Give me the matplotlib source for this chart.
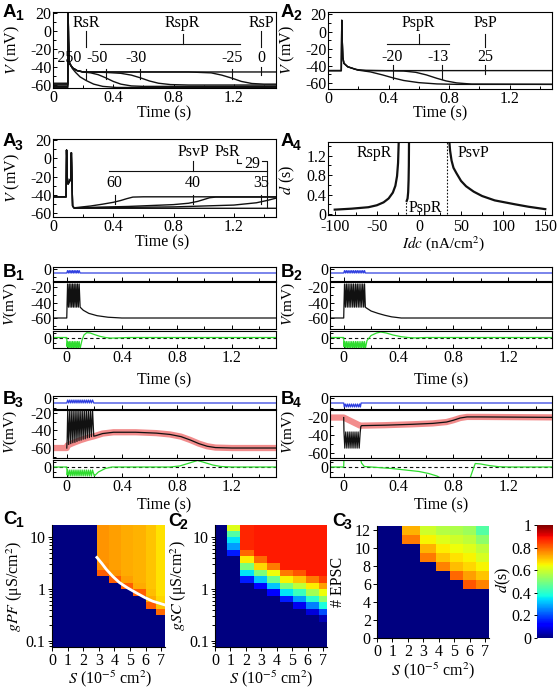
import numpy as np
import matplotlib
matplotlib.use('Agg')
import matplotlib.pyplot as plt
from matplotlib.ticker import MultipleLocator, FixedLocator, FuncFormatter, LogLocator, NullFormatter
from matplotlib.cm import ScalarMappable
from matplotlib.colors import Normalize

plt.rcParams['font.family'] = ['Liberation Serif', 'DejaVu Serif']
plt.rcParams['mathtext.fontset'] = 'stix'
plt.rcParams['axes.unicode_minus'] = False
plt.rcParams['axes.linewidth'] = 0.8

W, H = 559, 691
BLACK = '#111111'
BLUE = '#3040E0'
GREEN = '#2EDC2E'
PINK = '#F28C8C'
FS = 11.5

# ---------------- data (t in s, V in mV) ----------------
# A1: Idc = -250, -50, -30, -25, 0
a1_m250 = [(0, -63), (0.098, -63), (0.1, 30), (0.103, -10), (0.106, -30), (0.11, -36), (0.13, -42),
           (0.15, -46), (0.18, -51), (0.22, -55), (0.27, -59), (0.33, -61.5), (0.42, -62.7), (1.48, -63)]
a1_m50 = [(0, -61.5), (0.098, -61.5), (0.1, 30), (0.103, -10), (0.106, -30), (0.11, -36), (0.13, -41),
          (0.16, -44), (0.2, -45.5), (0.25, -46.5), (0.3, -48.5), (0.35, -52), (0.4, -56), (0.45, -59),
          (0.52, -61), (0.6, -61.5), (1.48, -61.5)]
a1_m30 = [(0, -60), (0.098, -60), (0.1, 30), (0.103, -10), (0.106, -30), (0.11, -36), (0.13, -41),
          (0.16, -44), (0.2, -45.5), (0.35, -46), (0.45, -47), (0.52, -49), (0.58, -52), (0.64, -55.5),
          (0.7, -58), (0.78, -59.5), (0.9, -60), (1.48, -60)]
a1_m25 = [(0, -59), (0.098, -59), (0.1, 30), (0.103, -10), (0.106, -30), (0.11, -36), (0.13, -41),
          (0.16, -44), (0.2, -45.5), (0.9, -45.5), (1.05, -46.5), (1.12, -49), (1.19, -52.5),
          (1.25, -56), (1.32, -58.3), (1.4, -59), (1.48, -59)]
a1_p0 = [(0, -58), (0.098, -58), (0.1, 30), (0.103, -10), (0.106, -30), (0.11, -36), (0.13, -41),
         (0.16, -44), (0.2, -45.5), (1.48, -45.5)]
a1_mark_t = [0.22, 0.35, 0.58, 1.19, 1.38]

# A2: Idc = -20, -13, 25
a2_m20 = [(0, -45.5), (0.088, -45.5), (0.091, 13), (0.094, -10), (0.098, -30), (0.105, -37), (0.13, -41),
          (0.2, -45), (0.28, -47), (0.36, -50.5), (0.43, -54), (0.5, -57), (0.6, -59.5), (0.72, -61),
          (0.85, -61.5), (1.48, -61.5)]
a2_m13 = [(0, -45.5), (0.088, -45.5), (0.091, 13), (0.094, -10), (0.098, -30), (0.105, -37), (0.13, -41),
          (0.2, -45), (0.35, -45.5), (0.5, -46), (0.58, -47.5), (0.65, -50.5), (0.72, -54.5),
          (0.78, -57.5), (0.85, -59.8), (0.95, -61.2), (1.48, -61.5)]
a2_p25 = [(0, -45.5), (0.088, -45.5), (0.091, 13), (0.094, -10), (0.098, -30), (0.105, -37), (0.13, -41),
          (0.18, -44), (0.25, -45.5), (1.48, -45.5)]
a2_mark_t = [0.43, 0.75, 1.04]

# A3: Idc = 60, 40, 35, 29
a3_spk = [(0, -42), (0.087, -42), (0.09, 9), (0.094, -20), (0.1, -28), (0.11, -25), (0.118, -22),
          (0.122, 6), (0.126, -25), (0.13, -52)]
a3_p60 = [(0.14, -54), (0.25, -52), (0.33, -50), (0.4, -48), (0.45, -46), (0.49, -44), (0.53, -42.3),
          (0.6, -42), (1.48, -42)]
a3_p40 = [(0.14, -54), (0.5, -52.5), (0.8, -50.5), (0.9, -49), (0.96, -47), (1.0, -45), (1.04, -43),
          (1.08, -42.3), (1.48, -42.3)]
a3_p35 = [(0.14, -54), (0.8, -53), (1.2, -51), (1.35, -48.5), (1.42, -46), (1.48, -43.5)]
a3_p29 = [(0.14, -54.5), (1.48, -54.5)]
a3_mark_t = [0.41, 0.93, 1.38]

# A4: duration d (s) vs Idc (nA/cm2)
a4_rspr = [(-100, 0.09), (-80, 0.11), (-60, 0.14), (-50, 0.18), (-42, 0.24), (-36, 0.32), (-31, 0.44),
           (-28, 0.58), (-26, 0.78), (-24.8, 1.05), (-24, 1.5)]
a4_pspr = [(-14.5, 0.27), (-13.5, 0.32), (-12.8, 0.45), (-12.3, 0.7), (-12.0, 1.0), (-11.8, 1.5)]
a4_psvp = [(36, 1.5), (37, 1.3), (38.7, 1.1), (41, 0.95), (44.5, 0.84), (50, 0.68), (56, 0.57),
           (65, 0.46), (75, 0.37), (90, 0.28), (114, 0.2), (130, 0.15), (150, 0.1)]
a4_bounds = [-15, 33]

# B1
b1_blue = [(-0.1, -5), (0, -5), (0.006, -2), (0.012, -5), (0.018, -2), (0.024, -5), (0.030, -2), (0.036, -5),
           (0.042, -2), (0.048, -5), (0.054, -2), (0.060, -5), (0.066, -2), (0.072, -5), (0.078, -2),
           (0.084, -5), (0.090, -2), (0.097, -5), (1.52, -5)]
b1_black = [(-0.1, -60), (0, -60), (0.002, -44), (0.006, -16), (0.012, -46), (0.018, -16), (0.024, -46),
            (0.030, -16), (0.036, -46), (0.042, -16), (0.048, -46), (0.054, -16), (0.060, -46),
            (0.066, -16), (0.072, -46), (0.078, -16), (0.084, -46), (0.090, -16), (0.097, -46),
            (0.12, -50), (0.16, -54), (0.22, -57), (0.30, -59), (0.40, -60), (1.52, -60)]
b1_green = [(-0.1, 0), (0, 0), (0.002, -9), (0.006, -4), (0.012, -11), (0.018, -4), (0.024, -11),
            (0.030, -4), (0.036, -11), (0.042, -4), (0.048, -11), (0.054, -4), (0.060, -11), (0.066, -4),
            (0.072, -11), (0.078, -4), (0.084, -11), (0.090, -4), (0.097, -11), (0.11, -3), (0.125, 2.5),
            (0.145, 4.8), (0.17, 4.5), (0.2, 3), (0.24, 1.2), (0.28, 0), (0.32, -0.6), (0.37, -0.4),
            (0.45, 0), (1.52, 0)]

# B2
b2_blue = [(-0.1, -5), (0, -5), (0.006, -2), (0.0125, -5), (0.019, -2), (0.026, -5), (0.032, -2), (0.039, -5),
           (0.046, -2), (0.052, -5), (0.059, -2), (0.066, -5), (0.072, -2), (0.079, -5), (0.086, -2),
           (0.092, -5), (0.099, -2), (0.106, -5), (0.112, -2), (0.119, -5), (0.126, -2), (0.132, -5),
           (0.139, -2), (0.146, -5), (0.152, -2), (0.158, -5), (1.52, -5)]
b2_black = [(-0.1, -60), (0, -60), (0.002, -44), (0.006, -16), (0.0125, -46), (0.019, -16), (0.026, -46),
            (0.032, -16), (0.039, -46), (0.046, -16), (0.052, -46), (0.059, -16), (0.066, -46),
            (0.072, -16), (0.079, -46), (0.086, -16), (0.092, -46), (0.099, -16), (0.106, -46),
            (0.112, -16), (0.119, -46), (0.126, -16), (0.132, -46), (0.139, -16), (0.146, -46),
            (0.152, -16), (0.158, -46), (0.165, -47), (0.2, -51), (0.25, -54), (0.3, -56.5),
            (0.35, -58.5), (0.42, -60), (1.52, -60)]
b2_green = [(-0.1, 0), (0, 0), (0.002, -9), (0.006, -4), (0.0125, -11), (0.019, -4), (0.026, -11),
            (0.032, -4), (0.039, -11), (0.046, -4), (0.052, -11), (0.059, -4), (0.066, -11), (0.072, -4),
            (0.079, -11), (0.086, -4), (0.092, -11), (0.099, -4), (0.106, -11), (0.112, -4), (0.119, -11),
            (0.126, -4), (0.132, -11), (0.139, -4), (0.146, -11), (0.152, -4), (0.158, -11), (0.17, -3),
            (0.2, 2), (0.24, 4.5), (0.27, 5.5), (0.31, 4.5), (0.36, 2.5), (0.42, 0.8), (0.47, 0),
            (0.52, -0.4), (0.6, 0), (1.52, 0)]

# B3
b3_tail = [(0.21, -46), (0.26, -43.5), (0.34, -42), (0.5, -42), (0.65, -43), (0.75, -44.5), (0.83, -47),
           (0.9, -51), (0.96, -55), (1.02, -58), (1.08, -59.5), (1.2, -60), (1.52, -60)]
b3_red = [(-0.1, -60), (0, -60), (0.005, -57), (0.05, -54), (0.1, -51), (0.15, -48.5), (0.2, -46.5)]
b3_spikes = [(0, -60), (0.003, -50), (0.007, -16), (0.014, -56), (0.022, -16), (0.029, -55), (0.037, -16),
             (0.044, -54), (0.052, -16), (0.059, -53.5), (0.067, -16), (0.074, -52.5), (0.082, -16),
             (0.089, -51.5), (0.097, -16), (0.104, -51), (0.112, -16), (0.119, -50), (0.127, -16),
             (0.134, -49.5), (0.142, -16), (0.149, -48.5), (0.157, -16), (0.164, -48), (0.172, -16),
             (0.179, -47), (0.187, -16), (0.196, -46.5)]
b3_blue = [(-0.1, -5), (0, -5), (0.007, -2), (0.014, -5), (0.022, -2), (0.029, -5), (0.037, -2), (0.044, -5),
           (0.052, -2), (0.059, -5), (0.067, -2), (0.074, -5), (0.082, -2), (0.089, -5), (0.097, -2),
           (0.104, -5), (0.112, -2), (0.119, -5), (0.127, -2), (0.134, -5), (0.142, -2), (0.149, -5),
           (0.157, -2), (0.164, -5), (0.172, -2), (0.179, -5), (0.187, -2), (0.196, -5), (1.52, -5)]
b3_green = [(-0.1, 0), (0, 0), (0.003, -8), (0.007, -3), (0.014, -9), (0.022, -3), (0.029, -9), (0.037, -3),
            (0.044, -9), (0.052, -3), (0.059, -9), (0.067, -3), (0.074, -9), (0.082, -3), (0.089, -9),
            (0.097, -3), (0.104, -9), (0.112, -3), (0.119, -9), (0.127, -3), (0.134, -9), (0.142, -3),
            (0.149, -9), (0.157, -3), (0.164, -9), (0.172, -3), (0.179, -9), (0.187, -3), (0.2, -9),
            (0.23, -5), (0.28, -1.5), (0.33, 0), (0.75, 0), (0.82, 1), (0.88, 3.5), (0.95, 6.5),
            (1.0, 4.5), (1.06, 2), (1.12, 0.5), (1.2, 0), (1.52, 0)]

# B4
b4_tail = [(0.13, -30), (0.3, -29.5), (0.5, -28.5), (0.65, -27.5), (0.75, -26), (0.8, -24), (0.85, -21.5),
           (0.9, -20.3), (1.0, -20.3), (1.52, -20.8)]
b4_red = [(-0.1, -21), (0, -21), (0.04, -24), (0.08, -27), (0.12, -30)]
b4_spikes = [(0, -21), (0.002, -37), (0.008, -55), (0.015, -37), (0.023, -55), (0.030, -37), (0.038, -55),
             (0.045, -37), (0.053, -55), (0.060, -37), (0.068, -55), (0.075, -37), (0.083, -55),
             (0.090, -37), (0.098, -55), (0.105, -37), (0.113, -55), (0.12, -38), (0.125, -31)]
b4_blue = [(-0.1, -5), (0, -5), (0.004, -9), (0.011, -6), (0.019, -9), (0.026, -6), (0.034, -9), (0.041, -6),
           (0.049, -9), (0.056, -6), (0.064, -9), (0.071, -6), (0.079, -9), (0.086, -6), (0.094, -9),
           (0.101, -6), (0.109, -9), (0.116, -6), (0.122, -9), (0.127, -5), (1.52, -5)]
b4_green = [(-0.1, 0), (0, 0), (0.002, 10), (0.12, 10), (0.13, 4), (0.15, 0.5), (0.25, -0.5), (0.35, -1.5),
            (0.45, -3), (0.55, -4.5), (0.62, -6.5), (0.68, -9), (0.72, -12), (0.92, -12), (0.94, -4),
            (0.96, 3.5), (1.0, 3), (1.06, 1.5), (1.13, 0.3), (1.2, 0), (1.52, 0)]

# C1: d (s) over S (1e-5 cm2) x gPF (uS/cm2); rows listed from top (largest g) down
g_edges = [0.077, 0.1, 0.133, 0.178, 0.237, 0.316, 0.422, 0.562, 0.75, 1.0, 1.33, 1.78, 2.37, 3.16,
           4.22, 5.62, 7.5, 10.0, 13.3, 17.0]
c1_s_edges = [0, 2.87, 3.63, 4.4, 5.22, 6.05, 6.69, 7.25]
c1_d = [
    [0, .75, .74, .73, .72, .70, .67],
    [0, .75, .74, .73, .72, .70, .67],
    [0, .75, .74, .73, .72, .70, .67],
    [0, .75, .74, .73, .72, .70, .67],
    [0, .75, .74, .73, .72, .70, .67],
    [0, .75, .74, .73, .72, .70, .67],
    [0, .76, .74, .73, .72, .70, .67],
    [0, .81, .75, .73, .72, .70, .67],
    [0, 0, .81, .74, .72, .70, .67],
    [0, 0, 0, .81, .73, .70, .67],
    [0, 0, 0, 0, .81, .71, .67],
    [0, 0, 0, 0, 0, .73, .68],
    [0, 0, 0, 0, 0, .81, .70],
    [0, 0, 0, 0, 0, 0, .80],
    [0, 0, 0, 0, 0, 0, 0],
    [0, 0, 0, 0, 0, 0, 0],
    [0, 0, 0, 0, 0, 0, 0],
    [0, 0, 0, 0, 0, 0, 0],
    [0, 0, 0, 0, 0, 0, 0],
]
c1_curve = [(2.88, 4.05), (3.2, 3.1), (3.48, 2.4), (3.9, 1.75), (4.33, 1.33), (4.85, 1.05), (5.39, 0.85),
            (5.9, 0.7), (6.45, 0.585), (7.2, 0.5)]

# C2: d (s) over S x gSC
c2_s_edges = [0, 0.8, 1.65, 2.5, 3.35, 4.2, 5.05, 5.9, 6.75, 7.25]
c2_d = [
    [0, .62, .87, .88, .88, .88, .88, .88, .88],
    [0, .45, .87, .88, .88, .88, .88, .88, .88],
    [0, .35, .87, .88, .88, .88, .88, .88, .88],
    [0, .28, .87, .88, .88, .88, .88, .88, .88],
    [0, .15, .80, .88, .88, .88, .88, .88, .88],
    [0, 0, .66, .80, .88, .88, .88, .88, .88],
    [0, 0, .50, .68, .78, .88, .88, .88, .88],
    [0, 0, .35, .50, .64, .78, .82, .88, .88],
    [0, 0, .15, .32, .48, .65, .70, .78, .84],
    [0, 0, 0, .12, .32, .50, .58, .66, .74],
    [0, 0, 0, 0, .12, .35, .42, .55, .64],
    [0, 0, 0, 0, 0, .15, .28, .40, .52],
    [0, 0, 0, 0, 0, 0, .10, .25, .38],
    [0, 0, 0, 0, 0, 0, 0, .08, .20],
    [0, 0, 0, 0, 0, 0, 0, 0, .05],
    [0, 0, 0, 0, 0, 0, 0, 0, 0],
    [0, 0, 0, 0, 0, 0, 0, 0, 0],
    [0, 0, 0, 0, 0, 0, 0, 0, 0],
    [0, 0, 0, 0, 0, 0, 0, 0, 0],
]

# C3: d (s) over S x number of EPSCs (rows 12 .. 0)
c3_s_edges = [0, 1.6, 2.8, 3.8, 4.7, 5.55, 6.4, 7.25]
c3_n_edges = [0, 0.5, 1.5, 2.5, 3.5, 4.5, 5.5, 6.5, 7.5, 8.5, 9.5, 10.5, 11.5, 12.5]
c3_d = [
    [0, .72, .60, .57, .56, .54, .45],
    [0, .78, .65, .62, .60, .58, .52],
    [0, 0, .72, .66, .64, .62, .58],
    [0, 0, .78, .70, .67, .65, .61],
    [0, 0, 0, .77, .71, .68, .65],
    [0, 0, 0, 0, .80, .74, .70],
    [0, 0, 0, 0, 0, .82, .77],
    [0, 0, 0, 0, 0, 0, 0],
    [0, 0, 0, 0, 0, 0, 0],
    [0, 0, 0, 0, 0, 0, 0],
    [0, 0, 0, 0, 0, 0, 0],
    [0, 0, 0, 0, 0, 0, 0],
    [0, 0, 0, 0, 0, 0, 0],
]

# ---------------- helpers ----------------
fig = plt.figure(figsize=(W / 100, H / 100), dpi=100)


def box(l, t, r, b):
    return fig.add_axes([l / W, 1 - b / H, (r - l) / W, (b - t) / H])


def ftext(x, y, s, **kw):
    kw.setdefault('fontsize', FS)
    kw.setdefault('ha', 'center')
    kw.setdefault('va', 'center')
    fig.text(x / W, 1 - y / H, s, **kw)


def line(ax, pts, **kw):
    a = np.asarray(pts, float)
    ax.plot(a[:, 0], a[:, 1], **kw)


gfmt = FuncFormatter(lambda v, _: '0' if abs(v) < 1e-9 else f'{v:g}')


def panel(x, y, letter, num):
    ftext(x, y, letter, fontsize=13.5, weight='bold', family='Liberation Sans', ha='left')
    ftext(x + 12, y + 4, num, fontsize=10, weight='bold', family='Liberation Sans', ha='left')


def trace_axes(ax, xlim, ylim, ymaj=20, ymin=10, xmaj=0.4, xmin=0.2):
    ax.set_xlim(*xlim)
    ax.set_ylim(*ylim)
    ax.xaxis.set_major_locator(MultipleLocator(xmaj))
    ax.xaxis.set_minor_locator(MultipleLocator(xmin))
    ax.yaxis.set_major_locator(MultipleLocator(ymaj))
    ax.yaxis.set_minor_locator(MultipleLocator(ymin))
    ax.xaxis.set_major_formatter(gfmt)
    ax.yaxis.set_major_formatter(gfmt)
    ax.tick_params(which='both', direction='in', labelsize=FS, pad=1.5, width=0.7)
    ax.tick_params(axis='y', pad=1)
    ax.tick_params(which='major', length=3)
    ax.tick_params(which='minor', length=2)


def marks(ax, ts, v0, v1):
    for t in ts:
        ax.plot([t, t], [v0, v1], color=BLACK, lw=0.8)


LW = 1.0

# ---------------- A1 ----------------
ax = box(53, 12, 276, 88)
for tr in (a1_m250, a1_m50, a1_m30, a1_m25, a1_p0):
    line(ax, tr, color=BLACK, lw=LW)
trace_axes(ax, (0, 1.48), (-63.3, 21.1))
marks(ax, a1_mark_t[:4], -42, -53)
marks(ax, a1_mark_t[4:], -40, -49)
for t, s in zip([0.095, 0.29, 0.55, 1.19, 1.38], ['-250', '-50', '-30', '-25', '0']):
    ax.text(t, -30, s, ha='center', va='center', fontsize=FS)
ax.text(0.22, 9, 'RsR', ha='center', va='center', fontsize=FS)
ax.plot([0.22, 0.22], [0, -18], color=BLACK, lw=0.8)
ax.text(0.86, 9, 'RspR', ha='center', va='center', fontsize=FS)
ax.plot([0.31, 1.24], [-14, -14], color=BLACK, lw=0.8)
ax.plot([0.86, 0.86], [-14, -3], color=BLACK, lw=0.8)
ax.text(1.38, 9, 'RsP', ha='center', va='center', fontsize=FS)
ax.plot([1.38, 1.38], [0, -18], color=BLACK, lw=0.8)
ftext(12, 50, r'$V$ (mV)', rotation=90)
ftext(164, 113, 'Time (s)')
panel(3, 12.5, 'A', '1')

# ---------------- A2 ----------------
ax = box(328, 12, 552, 89)
for tr in (a2_m20, a2_m13, a2_p25):
    line(ax, tr, color=BLACK, lw=LW)
trace_axes(ax, (0, 1.48), (-66.9, 22.7))
marks(ax, a2_mark_t[:2], -39, -55)
marks(ax, a2_mark_t[2:], -39, -49)
for t, s in zip([0.42, 0.73, 1.04], ['-20', '-13', '25']):
    ax.text(t, -30, s, ha='center', va='center', fontsize=FS)
ax.text(0.6, 10, 'PspR', ha='center', va='center', fontsize=FS)
ax.plot([0.39, 0.8], [-14, -14], color=BLACK, lw=0.8)
ax.plot([0.6, 0.6], [-14, -3], color=BLACK, lw=0.8)
ax.text(1.04, 10, 'PsP', ha='center', va='center', fontsize=FS)
ax.plot([1.04, 1.04], [-3, -18], color=BLACK, lw=0.8)
ftext(287, 50, r'$V$ (mV)', rotation=90)
ftext(440, 113, 'Time (s)')
panel(281, 12.5, 'A', '2')

# ---------------- A3 ----------------
ax = box(53, 139, 276, 217)
for tr in (a3_p60, a3_p40, a3_p35, a3_p29):
    line(ax, a3_spk + tr, color=BLACK, lw=LW)
trace_axes(ax, (0, 1.48), (-64, 21))
marks(ax, a3_mark_t, -40, -50)
for t, s in zip(a3_mark_t, ['60', '40', '35']):
    ax.text(t, -27, s, ha='center', va='center', fontsize=FS)
ax.text(0.93, 7, 'PsvP', ha='center', va='center', fontsize=FS)
ax.plot([0.37, 1.42], [-13.5, -13.5], color=BLACK, lw=0.8)
ax.plot([0.93, 0.93], [-13.5, -3], color=BLACK, lw=0.8)
ax.text(1.16, 7, 'PsR', ha='center', va='center', fontsize=FS)
ax.plot([1.22, 1.22, 1.25], [-1, -5, -5], color=BLACK, lw=0.8)
ax.text(1.32, -6, '29', ha='center', va='center', fontsize=FS)
ax.plot([1.39, 1.42, 1.42], [-3, -3, -54.5], color=BLACK, lw=0.8)
ftext(12, 178, r'$V$ (mV)', rotation=90)
ftext(162, 242, 'Time (s)')
panel(3, 142, 'A', '3')

# ---------------- A4 ----------------
ax = box(328, 142, 552, 215)
for tr in (a4_rspr, a4_pspr, a4_psvp):
    line(ax, tr, color=BLACK, lw=1.6)
ax.plot([a4_bounds[0]] * 2, [0, 0.28], color=BLACK, lw=0.8, ls=(0, (1.5, 1.5)))
ax.plot([a4_bounds[1]] * 2, [0, 1.5], color=BLACK, lw=0.8, ls=(0, (1.5, 1.5)))
trace_axes(ax, (-108, 158), (-0.02, 1.48), ymaj=0.4, ymin=0.2, xmaj=50, xmin=25)
ax.tick_params(axis='x', pad=3)
ax.text(-53, 1.26, 'RspR', ha='center', va='center', fontsize=FS)
ax.text(8, 0.12, 'PspR', ha='center', va='center', fontsize=FS)
ax.text(65, 1.26, 'PsvP', ha='center', va='center', fontsize=FS)
ftext(287, 180, r'$d$ (s)', rotation=90)
ftext(443, 244, r'$Idc$ (nA/cm$^2$)', fontsize=11)
panel(281, 142, 'A', '4')


# ---------------- B panels ----------------
def b_panel(l, r, rows, mid_ylim, blue_ylim, green_ylim, blue, black, green, red=None,
            ylab_x=8, time_y=377):
    t_blue, t_mid, t_green, b_green = rows
    axb = box(l, t_blue, r, t_mid - 1)
    axm = box(l, t_mid, r, t_green - 1)
    axg = box(l, t_green + 1, r, b_green)
    xl = (-0.1, 1.52)
    line(axb, blue, color=BLUE, lw=0.9)
    trace_axes(axb, xl, blue_ylim)
    axb.yaxis.set_major_locator(FixedLocator([0]))
    axb.yaxis.set_minor_locator(FixedLocator([-10]))
    axb.tick_params(labelbottom=False)
    if red is not None:
        line(axm, red, color=PINK, lw=4.5, solid_capstyle='butt')
    line(axm, black, color=BLACK, lw=0.9)
    trace_axes(axm, xl, mid_ylim)
    axm.yaxis.set_major_locator(FixedLocator([-20, -40, -60]))
    axm.tick_params(labelbottom=False)
    axg.axhline(0, color=BLACK, lw=0.8, ls=(0, (3, 2.5)))
    line(axg, green, color=GREEN, lw=0.9)
    trace_axes(axg, xl, green_ylim)
    axg.yaxis.set_major_locator(FixedLocator([0]))
    axg.yaxis.set_minor_locator(FixedLocator([-5, 5]))
    ftext(ylab_x, (t_mid + t_green) / 2 - 2, r'$V$(mV)', rotation=90, fontsize=11)
    ftext((l + r) / 2, time_y, 'Time (s)')


b_panel(53, 276, (267, 282, 330, 348), (-74.2, -13.5), (-15, 2.5), (-10.5, 6.5),
        b1_blue, b1_black, b1_green, ylab_x=10, time_y=380)
panel(3, 272, 'B', '1')
b_panel(330, 552, (267, 282, 330, 348), (-74.2, -13.5), (-15, 2.5), (-10.5, 6.5),
        b2_blue, b2_black, b2_green, ylab_x=288, time_y=380)
panel(281, 272, 'B', '2')
b_panel(53, 276, (396, 410, 459, 477), (-71.4, -16.6), (-11, 2), (-10, 7),
        b3_blue, b3_spikes + b3_tail, b3_green, red=b3_red + b3_tail, ylab_x=10, time_y=505)
panel(3, 399, 'B', '3')
b_panel(330, 552, (396, 410, 459, 477), (-66, -12.6), (-11, 2), (-10, 7),
        b4_blue, b4_spikes + b4_tail, b4_green, red=b4_red + b4_tail, ylab_x=288, time_y=505)
panel(281, 399, 'B', '4')

# ---------------- C panels ----------------
norm = Normalize(0, 1)
cmap = plt.get_cmap('jet')


def heat_axes(ax, xs, ys, d, log=True):
    ax.pcolormesh(xs, ys, np.asarray(d)[::-1], cmap=cmap, norm=norm, shading='flat')
    ax.set_xlim(0, 7.25)
    ax.set_xticks(range(8))
    ax.xaxis.set_major_formatter(gfmt)
    for s in ('top', 'right'):
        ax.spines[s].set_visible(False)
    ax.tick_params(which='both', direction='out', labelsize=FS, pad=1.5, width=0.7)
    ax.tick_params(which='major', length=3)
    ax.tick_params(which='minor', length=2)
    if log:
        ax.set_yscale('log')
        ax.set_ylim(0.077, 17)
        ax.yaxis.set_major_locator(FixedLocator([0.1, 1, 10]))
        ax.yaxis.set_major_formatter(gfmt)
        ax.yaxis.set_minor_locator(LogLocator(base=10, subs=np.arange(2, 10)))
        ax.yaxis.set_minor_formatter(NullFormatter())


ax = box(52, 525, 165, 647)
heat_axes(ax, c1_s_edges, g_edges, c1_d)
line(ax, c1_curve, color='white', lw=2)
ftext(15, 586, r'$gPF$ (μS/cm$^2$)', rotation=90)
ftext(110, 679, r'$S$ (10$^{-5}$ cm$^2$)')
panel(3, 519, 'C', '1')

ax = box(215, 525, 327, 647)
heat_axes(ax, c2_s_edges, g_edges, c2_d)
ftext(179, 586, r'$gSC$ (μS/cm$^2$)', rotation=90)
ftext(271, 679, r'$S$ (10$^{-5}$ cm$^2$)')
panel(168, 521, 'C', '2')

ax = box(377, 526, 489, 638)
heat_axes(ax, c3_s_edges, c3_n_edges, c3_d, log=False)
ax.set_ylim(0, 12.5)
ax.set_yticks(range(0, 13, 2))
ax.yaxis.set_major_formatter(gfmt)
ftext(338, 582, '# EPSC', rotation=90)
ftext(433, 671, r'$S$ (10$^{-5}$ cm$^2$)')
panel(332, 521, 'C', '3')

cax = box(537, 525, 553, 638)
cb = fig.colorbar(ScalarMappable(norm=norm, cmap=cmap), cax=cax)
cb.outline.set_visible(False)
cb.set_ticks([0, 0.2, 0.4, 0.6, 0.8, 1.0])
cb.ax.yaxis.set_major_formatter(gfmt)
cax.yaxis.set_ticks_position('left')
cax.tick_params(labelsize=FS, length=2.5, width=0.7, pad=1.5)
ftext(503, 580, r'$d$(s)', rotation=90)

fig.savefig('out.png', dpi=100)
